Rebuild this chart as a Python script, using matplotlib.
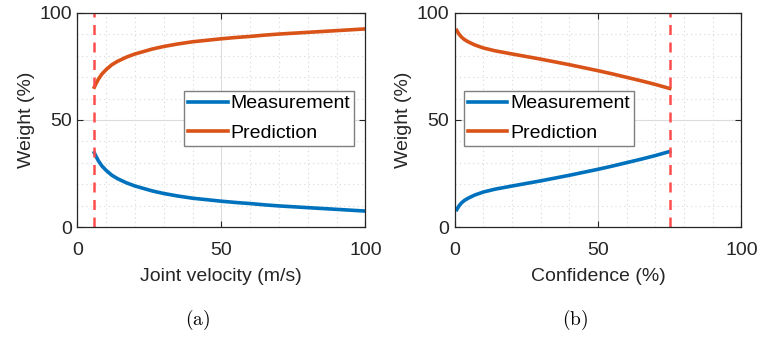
import numpy as np
import matplotlib.pyplot as plt
from matplotlib.ticker import MultipleLocator

# (a) weight vs joint velocity
vel = [5.9, 6.5, 7.3, 8.5, 10, 12, 14, 17, 20, 26, 30, 35, 40, 45, 50,
       55, 60, 65, 70, 75, 80, 85, 90, 95, 100]
vel_meas = [34.7, 33.0, 31.0, 28.6, 26.5, 24.2, 22.6, 20.7, 19.2, 16.9, 15.7, 14.5, 13.5, 12.8, 12.1,
            11.5, 11.0, 10.4, 9.9, 9.5, 9.1, 8.7, 8.3, 7.9, 7.5]
vel_pred = [65.3, 67.0, 69.0, 71.4, 73.5, 75.8, 77.4, 79.3, 80.8, 83.1, 84.3, 85.5, 86.5, 87.2, 87.9,
            88.5, 89.0, 89.6, 90.1, 90.5, 90.9, 91.3, 91.7, 92.1, 92.5]
vel_thresh = 5.9

# (b) weight vs confidence
conf = [0.7, 1.5, 2.4, 3.5, 4.8, 7, 10, 14, 20, 25, 30, 35, 40, 45, 50,
        55, 60, 65, 70, 75]
conf_meas = [8.2, 10.0, 11.4, 12.6, 13.6, 15.0, 16.4, 17.7, 19.2, 20.4, 21.6, 22.9, 24.2, 25.6, 27.0,
             28.5, 30.1, 31.7, 33.4, 35.3]
conf_pred = [91.8, 90.0, 88.6, 87.4, 86.4, 85.0, 83.6, 82.3, 80.8, 79.6, 78.4, 77.1, 75.8, 74.4, 73.0,
             71.5, 69.9, 68.3, 66.6, 64.7]
conf_thresh = 75

blue = '#0072BD'
orange = '#D95319'
txt = '#262626'

plt.rcParams['font.family'] = ['Liberation Sans', 'DejaVu Sans']
plt.rcParams['mathtext.fontset'] = 'cm'

fig = plt.figure(figsize=(7.58, 3.38), dpi=100)
ax1 = fig.add_axes([0.102, 0.328, 0.380, 0.634])
ax2 = fig.add_axes([0.600, 0.328, 0.378, 0.634])


def style(ax):
    ax.set_xlim(0, 100)
    ax.set_ylim(0, 100)
    ax.xaxis.set_major_locator(MultipleLocator(50))
    ax.yaxis.set_major_locator(MultipleLocator(50))
    ax.xaxis.set_minor_locator(MultipleLocator(10))
    ax.yaxis.set_minor_locator(MultipleLocator(10))
    ax.grid(which='major', color='#dcdcdc', lw=0.8)
    ax.grid(which='minor', color='#d8d8d8', lw=0.8, ls=(0, (1, 3)))
    ax.set_axisbelow(True)
    ax.tick_params(which='both', direction='in', top=True, right=True,
                   labelsize=14, colors=txt, length=4)
    ax.tick_params(which='minor', length=0)
    ax.tick_params(axis='x', pad=11)
    ax.tick_params(axis='y', pad=4)
    for s in ax.spines.values():
        s.set_color('#262626')
        s.set_linewidth(0.9)
    ax.set_ylabel('Weight (%)', fontsize=14, color=txt, labelpad=3)


def add_legend(ax, x0):
    ax.legend(loc='upper left', bbox_to_anchor=(x0, 0.636), fontsize=14,
              fancybox=False, edgecolor='#7f7f7f', framealpha=1,
              handlelength=2.05, handletextpad=0.15, borderpad=0.2,
              labelspacing=0.6, borderaxespad=0)


style(ax1)
ax1.plot(vel, vel_meas, color=blue, lw=2.6, label='Measurement')
ax1.plot(vel, vel_pred, color=orange, lw=2.6, label='Prediction')
ax1.axvline(vel_thresh, color='#ff4d4d', lw=1.8, ls=(0, (4, 3)))
ax1.set_xlabel('Joint velocity (m/s)', fontsize=14, color=txt, labelpad=6)
add_legend(ax1, 0.37)

style(ax2)
ax2.plot(conf, conf_meas, color=blue, lw=2.6, label='Measurement')
ax2.plot(conf, conf_pred, color=orange, lw=2.6, label='Prediction')
ax2.axvline(conf_thresh, color='#ff4d4d', lw=1.8, ls=(0, (4, 3)))
ax2.set_xlabel('Confidence (%)', fontsize=14, color=txt, labelpad=6)
add_legend(ax2, 0.031)

fig.text(0.26, 0.053, r'$\mathrm{(a)}$', ha='center', va='center', fontsize=14)
fig.text(0.758, 0.053, r'$\mathrm{(b)}$', ha='center', va='center', fontsize=14)

fig.savefig('out.png', dpi=100)
